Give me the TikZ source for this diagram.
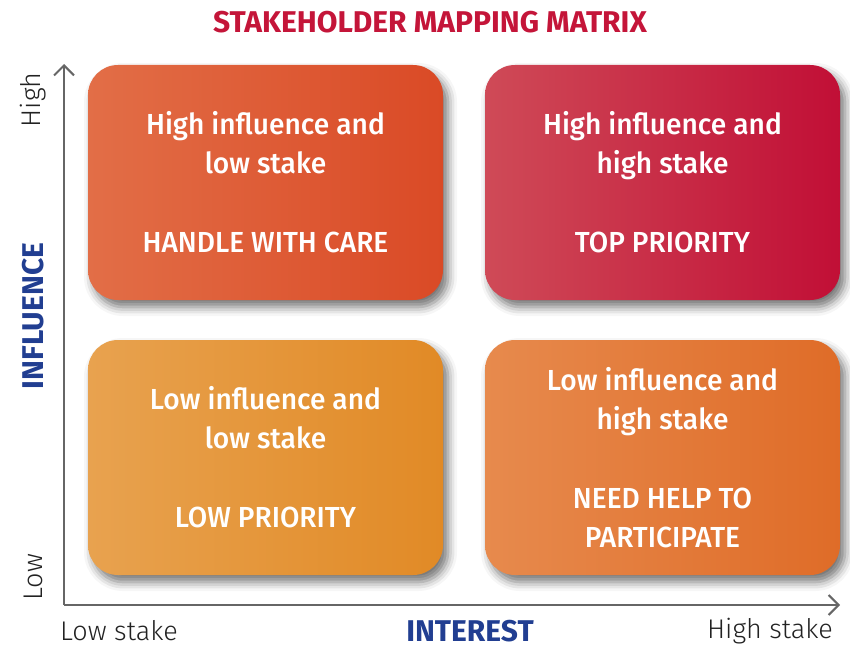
\documentclass[tikz,border=0pt]{standalone}
\usepackage{fontspec}
\setmainfont{Fira Sans}
\newfontfamily\medfont{Fira Sans}[FakeStretch=0.97, UprightFont=* Medium]
\newfontfamily\lightfont{Fira Sans}[UprightFont=* Light]
\usetikzlibrary{shadows.blur,arrows.meta}
\definecolor{tlL}{HTML}{E26E47}\definecolor{tlR}{HTML}{DA4A26}
\definecolor{trL}{HTML}{CF4A57}\definecolor{trR}{HTML}{C10F36}
\definecolor{blL}{HTML}{E8A24F}\definecolor{blR}{HTML}{E18A26}
\definecolor{brL}{HTML}{E78A4D}\definecolor{brR}{HTML}{DF6C28}
\definecolor{titlered}{HTML}{C41539}
\definecolor{axisblue}{HTML}{213E91}
\definecolor{axisgray}{HTML}{666666}
\definecolor{labgray}{HTML}{222222}
\tikzset{
  quad/.style={rounded corners=30pt, minimum width=355pt, minimum height=235pt,
    inner sep=0pt, align=center, text=white,
    font=\medfont\fontsize{29}{39}\selectfont,
    blur shadow={shadow xshift=5pt, shadow yshift=-7pt, shadow blur radius=9pt, shadow opacity=55}},
  axisline/.style={draw=axisgray, line width=2.2pt, -{Straight Barb[length=10pt,width=20pt,line width=2pt]}},
  ticklab/.style={text=labgray, font=\lightfont\fontsize{27}{30}\selectfont, inner sep=0pt},
  axislab/.style={text=axisblue, font=\bfseries\fontsize{30}{32}\selectfont, inner sep=0pt},
}
\begin{document}
\begin{tikzpicture}[x=1pt,y=-1pt]
\useasboundingbox (0,0) rectangle (850,650);
% title
\node[text=titlered, font=\bfseries\fontsize{30}{32}\selectfont, inner sep=0pt] (title) at (430,22) {STAKEHOLDER MAPPING MATRIX};
% axes
\coordinate (origin) at (64,605);
\coordinate (ytop) at (64,64);
\coordinate (xend) at (840,605);
\draw[axisline] (origin) -- (ytop);
\draw[axisline] (origin) -- (xend);
% quadrants
\node[quad, left color=tlL, right color=tlR] (tl) at (265.5,182.5) {High influence and\\low stake\\[40pt]HANDLE WITH CARE};
\node[quad, left color=trL, right color=trR] (tr) at (662.5,182.5) {High influence and\\high stake\\[40pt]TOP PRIORITY};
\node[quad, left color=blL, right color=blR] (bl) at (265.5,457.5) {Low influence and\\low stake\\[40pt]LOW PRIORITY};
\node[quad, left color=brL, right color=brR] (br) at (662.5,457.5) {Low influence and\\high stake\\[40pt]NEED HELP TO\\PARTICIPATE};
% axis labels
\node[ticklab, rotate=90] (high) at (33,100) {High};
\node[ticklab, rotate=90] (low) at (33,577) {Low};
\node[axislab, rotate=90] (infl) at (33,316) {INFLUENCE};
\node[ticklab] (lowstake) at (119,631) {Low stake};
\node[ticklab] (highstake) at (770,631) {High stake};
\node[axislab] (interest) at (470,631) {INTEREST};
\end{tikzpicture}
\end{document}
